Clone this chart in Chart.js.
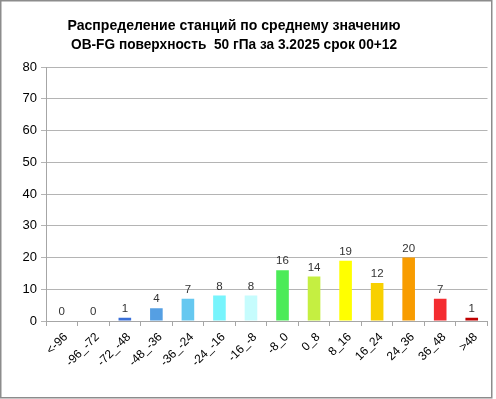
<!DOCTYPE html>
<html>
<head>
<meta charset="utf-8">
<script src="https://cdn.jsdelivr.net/npm/chart.js@4/dist/chart.umd.min.js"></script>
<style>
  html, body { margin: 0; padding: 0; background: #fff; }
  #wrap { width: 496px; height: 399px; position: relative; }
</style>
</head>
<body>
<div id="wrap"><canvas id="c" width="496" height="399"></canvas></div>
<script>
const titleLines = ["Распределение станций по среднему значению", "OB-FG поверхность  50 гПа за 3.2025 срок 00+12"];
const categories = ["<-96", "-96_-72", "-72_-48", "-48_-36", "-36_-24", "-24_-16", "-16_-8", "-8_0", "0_8", "8_16", "16_24", "24_36", "36_48", ">48"];
const values = [0, 0, 1, 4, 7, 8, 8, 16, 14, 19, 12, 20, 7, 1];
const barColors = ["#3a6fd8", "#3a6fd8", "#3a6fd8", "#559fe3", "#66c8f0", "#77f4fc", "#c6fcfd", "#4ceb58", "#c5ef41", "#ffff00", "#f8d000", "#f89c00", "#f42c30", "#c00000"];
const yTicks = [0, 10, 20, 30, 40, 50, 60, 70, 80];

const FONT = "'Liberation Sans', Arial, sans-serif";

const framePlugin = {
  id: 'frame',
  afterDraw(chart) {
    const ctx = chart.ctx;
    ctx.save();
    ctx.strokeStyle = '#8c8c8c';
    ctx.lineWidth = 1.5;
    ctx.strokeRect(0.75, 0.75, 491, 397);
    // title
    ctx.fillStyle = '#000';
    ctx.font = "bold 15px " + FONT;
    ctx.textAlign = 'center';
    ctx.textBaseline = 'alphabetic';
    ctx.fillText(titleLines[0], 234, 30, 333);
    ctx.fillText(titleLines[1], 234, 49, 326);
    ctx.restore();
  }
};

const valueLabels = {
  id: 'valueLabels',
  afterDatasetsDraw(chart) {
    const ctx = chart.ctx;
    const meta = chart.getDatasetMeta(0);
    ctx.save();
    ctx.fillStyle = '#333';
    ctx.font = "11.5px " + FONT;
    ctx.textAlign = 'center';
    ctx.textBaseline = 'alphabetic';
    meta.data.forEach((bar, i) => {
      ctx.fillText(String(values[i]), bar.x, bar.y - 6);
    });
    ctx.restore();
  }
};

new Chart(document.getElementById('c'), {
  type: 'bar',
  data: {
    labels: categories,
    datasets: [{
      data: values,
      backgroundColor: barColors,
      borderWidth: 0,
      categoryPercentage: 1,
      barPercentage: 0.4
    }]
  },
  options: {
    responsive: false,
    animation: false,
    devicePixelRatio: 1,
    layout: { padding: { top: 67, left: 0, right: 8.5, bottom: 0 } },
    plugins: { legend: { display: false }, tooltip: { enabled: false }, title: { display: false } },
    scales: {
      x: {
        afterFit(scale) { scale.height = 78; },
        grid: { display: true, drawOnChartArea: false, drawTicks: true, tickLength: 5, offset: true, color: '#a6a6a6' },
        border: { display: true, color: '#a6a6a6', width: 1 },
        ticks: {
          autoSkip: false, maxRotation: 45, minRotation: 45, padding: 4, labelOffset: 4,
          color: '#000', font: { family: FONT, size: 12 }
        }
      },
      y: {
        min: 0, max: 80,
        afterFit(scale) { scale.width = 46; },
        afterBuildTicks(scale) { scale.ticks = yTicks.map(v => ({ value: v })); },
        grid: { color: '#b4b4b4', lineWidth: 1, tickLength: 5 },
        border: { display: true, color: '#a6a6a6', width: 1 },
        ticks: { color: '#000', padding: 4, font: { family: FONT, size: 13 } }
      }
    }
  },
  plugins: [framePlugin, valueLabels]
});
</script>
</body>
</html>
